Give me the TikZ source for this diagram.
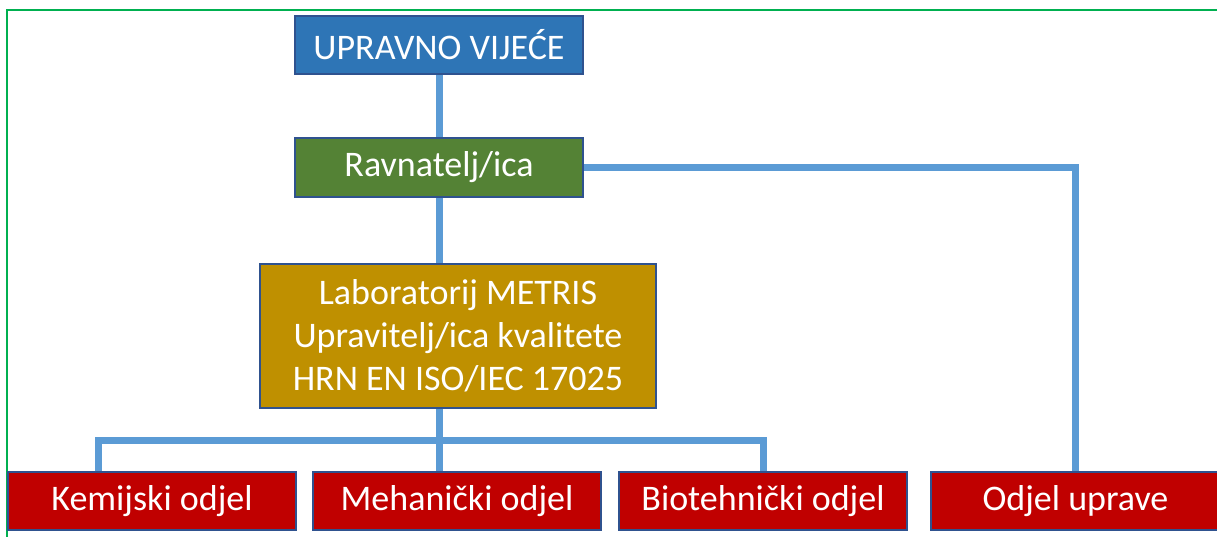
\documentclass[tikz,border=0pt]{standalone}
\usepackage{fontspec}
\setmainfont{Carlito}
\usetikzlibrary{positioning}
\definecolor{uvblue}{RGB}{46,117,182}
\definecolor{ravgreen}{RGB}{84,130,53}
\definecolor{labgold}{RGB}{191,144,0}
\definecolor{odjred}{RGB}{192,0,0}
\definecolor{linkblue}{RGB}{91,155,213}
\definecolor{edgeblue}{RGB}{47,82,143}
\definecolor{frame}{RGB}{0,176,80}
\tikzset{
  box/.style={draw=edgeblue,line width=1.5pt,text=white,minimum width=288pt,minimum height=58pt,
    inner sep=0pt,align=center,font=\fontsize{36}{43}\selectfont},
  link/.style={draw=linkblue,line width=7pt}
}
\begin{document}
\begin{tikzpicture}[x=1pt,y=1pt]
   \useasboundingbox (0,0) rectangle (1217,-537);
   \draw[frame,line width=2pt] (7,-10) rectangle (1240,-560);
   \node[box,fill=uvblue] (uv) at (439,-45) {UPRAVNO VIJEĆE};
   \node[box,fill=ravgreen,minimum height=59pt] (rav) at (439,-167.5) {Ravnatelj/ica};
   \node[box,fill=labgold,minimum width=396pt,minimum height=144pt] (lab) at (458,-336)
     {Laboratorij METRIS\\Upravitelj/ica kvalitete\\HRN EN ISO/IEC 17025};
   \node[box,fill=odjred] (kem) at (152,-501) {Kemijski odjel};
   \node[box,fill=odjred] (meh) at (457,-501) {Mehanički odjel};
   \node[box,fill=odjred] (bio) at (763,-501) {Biotehnički odjel};
   \node[box,fill=odjred,minimum width=289pt] (odj) at (1075.5,-501) {Odjel uprave};
   \coordinate (bus) at (439,-440);
   \draw[link] (uv.south) -- (rav.north);
   \draw[link] (rav.south) -- (rav.south |- lab.north);
   \draw[link] (bus |- lab.south) -- (bus |- meh.north);
   \draw[link] ([xshift=-54pt]kem.north) |- (bus) -| (bio.north);
   \draw[link] (rav.east) -| (odj.north);
\end{tikzpicture}
\end{document}
